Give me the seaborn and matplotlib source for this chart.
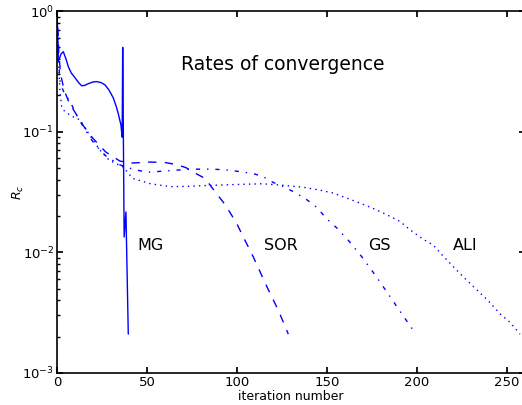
import matplotlib

matplotlib.use("Agg")
import matplotlib.pyplot as plt
import matplotlib.ticker as mticker
import pandas as pd
import seaborn as sns

# MG (solid)
mg_x = [0, 0.3, 0.7, 1.3, 2.2, 3.5, 5, 6.3, 8, 10, 12, 13.7, 15.5, 17.4, 20, 22, 24.5, 26.7, 29, 31.3, 33, 34, 35.5, 36.2, 36.5, 37.3, 38.3, 39.6]
mg_y = [1.0, 0.7, 0.39, 0.4, 0.44, 0.46, 0.4, 0.345, 0.305, 0.28, 0.255, 0.24, 0.242, 0.25, 0.258, 0.26, 0.255, 0.244, 0.22, 0.19, 0.16, 0.142, 0.114, 0.09, 0.5, 0.0134, 0.0216, 0.0021]

# SOR (dashed)
sor_x = [0, 1, 2, 4, 7, 10, 15, 20, 27, 35, 42, 52, 60, 64.5, 68, 72, 76, 82.2, 87, 92.4, 96, 99.8, 104.4, 109, 113, 117.4, 123, 128.5]
sor_y = [1.0, 0.45, 0.3, 0.22, 0.17, 0.145, 0.11, 0.088, 0.068, 0.057, 0.055, 0.056, 0.0555, 0.054, 0.0525, 0.05, 0.046, 0.041, 0.033, 0.026, 0.0215, 0.0174, 0.0126, 0.0092, 0.0068, 0.0049, 0.0033, 0.0021]

# GS (dash-dot)
gs_x = [0, 0.8, 1.7, 2.6, 4.5, 7.2, 10.5, 14.6, 21, 27.6, 35, 42, 50, 58, 66.5, 75, 83, 92, 100, 109, 115, 120, 125, 131, 137.8, 144.3, 149.8, 155.7, 161.8, 169.3, 176.7, 185, 191.5, 199.4]
gs_y = [1.0, 0.4, 0.26, 0.236, 0.2, 0.18, 0.14, 0.11, 0.078, 0.062, 0.053, 0.049, 0.046, 0.047, 0.048, 0.0488, 0.049, 0.0485, 0.047, 0.045, 0.042, 0.038, 0.0355, 0.032, 0.028, 0.0236, 0.019, 0.0158, 0.0126, 0.0092, 0.0065, 0.0043, 0.0031, 0.0021]

# ALI (dotted)
ali_x = [0, 0.8, 1.6, 2.6, 4.4, 8, 12.8, 16, 20, 24, 29, 36.7, 42, 52, 63, 72, 81, 100, 114, 125, 136.9, 145, 153.5, 160, 168.3, 176, 183.2, 190.6, 196.1, 203.5, 209, 214, 220.2, 226, 233.2, 240, 246.1, 252, 257.2]
ali_y = [1.0, 0.4, 0.22, 0.16, 0.146, 0.135, 0.125, 0.105, 0.085, 0.07, 0.058, 0.051, 0.041, 0.037, 0.035, 0.0352, 0.0357, 0.0365, 0.037, 0.036, 0.0346, 0.033, 0.031, 0.0285, 0.0256, 0.023, 0.0205, 0.018, 0.0154, 0.0128, 0.0115, 0.0095, 0.0076, 0.0062, 0.0049, 0.0039, 0.0031, 0.0026, 0.0021]

labels = ["MG", "SOR", "GS", "ALI"]
label_x = [51.7, 124.4, 179, 226.7]
label_y = 0.0113

sns.set_theme(style="ticks", rc={
    "text.color": "black",
    "axes.labelcolor": "black",
    "axes.edgecolor": "black",
    "xtick.color": "black",
    "ytick.color": "black",
})
plt.rcParams["font.family"] = ["DejaVu Sans"]
plt.rcParams["mathtext.default"] = "regular"

fig = plt.figure(figsize=(5.22, 4.05), dpi=100)
ax = fig.add_axes([57 / 522, 32 / 405, 468 / 522, 362 / 405])

blue = "#0000ff"
series = [
    (mg_x, mg_y, "-"),
    (sor_x, sor_y, (0, (6, 6))),
    (gs_x, gs_y, (0, (3, 5, 1, 5))),
    (ali_x, ali_y, (0, (1, 3))),
]
for xs, ys, ls in series:
    df = pd.DataFrame({"it": xs, "r": ys})
    sns.lineplot(data=df, x="it", y="r", color=blue, linewidth=1.0, linestyle=ls,
                 sort=False, estimator=None, ax=ax)

ax.set_yscale("log")
ax.set_ylim(1e-3, 1)
ax.set_xlim(0, 260)
ax.yaxis.set_major_formatter(mticker.LogFormatterMathtext())
ax.set_xticks([0, 50, 100, 150, 200, 250])

for name, lx in zip(labels, label_x):
    ax.text(lx, label_y, name, fontsize=11.5, ha="center", va="center")
ax.text(125.6, 0.357, "Rates of convergence", fontsize=13.5, ha="center", va="center")

ax.set_xlabel("iteration number", fontsize=9, labelpad=1)
ax.set_ylabel(r"$\mathit{R_c}$", fontsize=9, va="center")
ax.yaxis.set_label_coords(-0.083, 0.5)
ax.tick_params(axis="both", which="both", direction="in", top=True, right=True, labelsize=9.5)
ax.tick_params(axis="both", which="major", length=4, pad=2)
ax.tick_params(axis="y", which="minor", length=2)
ax.spines["right"].set_visible(False)
for s in ["left", "bottom", "top"]:
    ax.spines[s].set_linewidth(1.2)

fig.savefig("out.png", dpi=100)
